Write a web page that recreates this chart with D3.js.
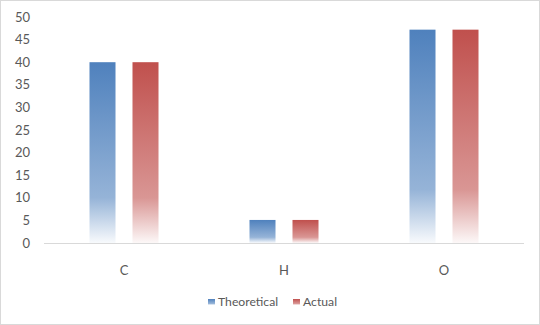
<!DOCTYPE html>
<html>
<head>
<meta charset="utf-8">
<script src="https://cdn.jsdelivr.net/npm/d3@7"></script>
<style>
  body { margin: 0; background: #fff; }
  text { font-family: Lato, "Liberation Sans", sans-serif; fill: #595959; }
</style>
</head>
<body>
<div id="chart"></div>
<script>
// Data
const categories = ['C', 'H', 'O'];
const seriesNames = ['Theoretical', 'Actual'];
const theoretical = [40, 5.1, 47.2];
const actual = [40, 5.1, 47.2];
const yTicks = [0, 5, 10, 15, 20, 25, 30, 35, 40, 45, 50];

const colors = { 'Theoretical': '#4f81bd', 'Actual': '#c0504d' };

const W = 540, H = 325;
const margin = { top: 17, right: 16, bottom: 82, left: 44 };

const svg = d3.select('#chart').append('svg')
    .attr('width', W)
    .attr('height', H);

// Border
svg.append('rect')
    .attr('x', 0.5).attr('y', 0.5)
    .attr('width', W - 1).attr('height', H - 1)
    .attr('fill', '#fff')
    .attr('stroke', '#d9d9d9');

// Gradients: solid at top, fading to white at bottom
const defs = svg.append('defs');
seriesNames.forEach(s => {
    const g = defs.append('linearGradient')
        .attr('id', 'grad-' + s)
        .attr('x1', 0).attr('y1', 0).attr('x2', 0).attr('y2', 1);
    g.append('stop').attr('offset', '0%').attr('stop-color', colors[s]);
    g.append('stop').attr('offset', '75%').attr('stop-color', colors[s]).attr('stop-opacity', 0.6);
    g.append('stop').attr('offset', '100%').attr('stop-color', colors[s]).attr('stop-opacity', 0.04);
});

const x = d3.scaleBand()
    .domain(categories)
    .range([margin.left, W - margin.right]);

const x1 = d3.scaleBand()
    .domain(seriesNames)
    .range([0, x.bandwidth()])
    .paddingInner(0.395)
    .paddingOuter(1.058);

const y = d3.scaleLinear()
    .domain([0, 50])
    .range([H - margin.bottom, margin.top]);

// Y axis labels
svg.append('g')
    .selectAll('text')
    .data(yTicks)
    .enter().append('text')
    .attr('x', 30)
    .attr('y', d => y(d))
    .attr('dy', '0.35em')
    .attr('text-anchor', 'end')
    .style('font-size', '13px')
    .text(d => d);

// Bars
const seriesData = { 'Theoretical': theoretical, 'Actual': actual };
seriesNames.forEach(s => {
    svg.append('g')
        .selectAll('rect')
        .data(categories)
        .enter().append('rect')
        .attr('x', (c) => x(c) + x1(s))
        .attr('width', x1.bandwidth())
        .attr('y', (c, i) => y(seriesData[s][i]))
        .attr('height', (c, i) => y(0) - y(seriesData[s][i]))
        .attr('fill', `url(#grad-${s})`);
});

// X axis line
svg.append('line')
    .attr('x1', margin.left).attr('x2', W - margin.right)
    .attr('y1', y(0) + 0.5).attr('y2', y(0) + 0.5)
    .attr('stroke', '#d9d9d9');

// Category labels
svg.append('g')
    .selectAll('text')
    .data(categories)
    .enter().append('text')
    .attr('x', d => x(d) + x.bandwidth() / 2)
    .attr('y', y(0) + 27)
    .attr('dy', '0.35em')
    .attr('text-anchor', 'middle')
    .style('font-size', '13px')
    .text(d => d);

// Legend
const legendX = [208, 293];
const legend = svg.append('g');
seriesNames.forEach((s, i) => {
    legend.append('rect')
        .attr('x', legendX[i]).attr('y', 299)
        .attr('width', 7).attr('height', 6)
        .attr('fill', `url(#grad-${s})`);
    legend.append('text')
        .attr('x', legendX[i] + 10)
        .attr('y', 302)
        .attr('dy', '0.35em')
        .style('font-size', '12.2px')
        .text(s);
});
</script>
</body>
</html>
